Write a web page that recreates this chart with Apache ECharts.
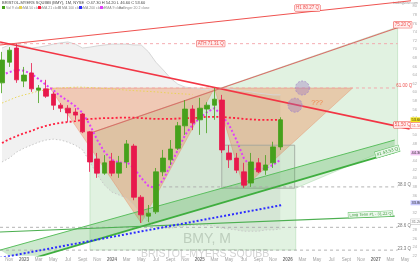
<!DOCTYPE html>
<html><head><meta charset="utf-8">
<script src="https://cdn.jsdelivr.net/npm/echarts@6/dist/echarts.min.js"></script>
<style>html,body{margin:0;padding:0;background:#fff;overflow:hidden}#c{width:420px;height:265px}</style>
</head><body><div id="c"></div>
<script>
// ---- x tick labels (month index 0 = Oct 2022) ----
const xTickIdx   = [1,3,5,7,9,11,13,15,17,19,21,23,25,27,29,31,33,35,37,39,41,43,45,47,49,51,53,55];
const xTickText  = ['Nov','2023','Mar','May','Jul','Sept','Nov','2024','Mar','May','Jul','Sept','Nov','2025','Mar','May','Jul','Sept','Nov','2026','Mar','May','Jul','Sept','Nov','2027','Mar','May'];

// ---- monthly candles ----
const open  = [62.2,67.0,70.3,62.6,64.5,60.5,60.8,59.6,57.0,56.3,55.4,54.95,50.8,44.5,41.2,44.0,41.2,43.8,47.5,35.6,31.2,32.2,41.5,44.3,47.0,52.2,56.1,53.6,56.1,57.0,58.2,45.9,44.7,41.5,38.9,43.6,41.9,43.6,47.3];
const close = [67.5,69.8,62.9,64.0,60.8,61.0,59.1,57.0,56.3,55.2,54.7,50.8,43.8,41.2,43.6,41.2,43.6,48.0,35.6,31.5,31.9,41.5,44.7,46.8,52.2,56.1,52.9,56.3,57.0,58.4,46.6,44.3,41.9,38.4,43.8,41.5,43.1,47.3,53.6];
const low   = [59.8,65.9,62.2,61.2,60.1,57.5,58.7,55.9,55.4,53.1,53.6,50.5,41.5,40.1,40.8,40.5,40.1,42.4,34.9,29.6,29.8,31.7,40.5,43.1,46.6,50.1,51.2,50.1,50.5,53.6,45.9,42.4,41.2,37.8,38.0,41.2,40.8,42.4,46.6];
const high  = [69.4,70.5,71.3,65.9,66.8,61.7,62.9,60.1,57.5,57.0,56.3,55.2,51.0,45.9,45.4,45.9,45.2,48.9,48.0,36.1,33.8,42.4,46.6,48.9,53.1,58.2,57.0,58.7,57.7,61.0,59.4,47.7,45.9,43.6,45.9,44.7,45.4,48.5,54.2];

// ---- indicator lines ----
const maMagenta = [64.0,64.7,65.2,65.0,64.3,63.1,61.7,60.5,59.1,58.0,56.8,55.2,52.4,48.9,46.1,44.3,43.6,43.8,42.4,40.1,38.2,37.7,39.6,43.1,46.6,50.1,52.4,54.0,55.4,56.3,54.7,52.4,48.9,44.7,42.6,41.9,42.4,43.1,44.3];
const maRed     = [48.2,49.1,49.8,50.5,51.0,51.7,52.2,52.6,52.9,53.1,53.3,53.6,53.8,53.9,54.0,54.0,54.1,54.1,54.1,54.0,53.9,53.8,53.8,53.8,53.9,54.0,54.0,54.1,54.3,54.3,54.3,54.1,54.0,53.8,53.7,53.6,53.6,53.6,53.6];
const maYellow  = [57.5,58.2,58.9,59.4,59.8,60.3,60.5,60.8,61.0,61.1,61.2,61.2,61.1,61.0,60.9,60.8,60.65,60.5,60.4,60.3,60.2,60.1,59.95,59.8,59.7,59.6,59.5];
const bbUpper   = [70.3,71.0,71.2,70.8,70.3,70.5,70.8,71.2,71.5,71.7,71.2,70.3,70.5,70.8,71.0,71.2,71.2,71.2,71.0,71.0,69.4,67.0,65.2,63.3,61.9,61.2,61.0,60.8,60.5,61.0,61.0,60.8,60.5,60.3,60.1,59.8,59.6,59.4,59.4];
const bbLower   = [43.8,44.7,46.1,47.0,47.7,48.4,48.9,49.1,48.9,48.4,47.7,46.6,43.8,40.8,38.4,36.8,36.1,35.4,33.8,31.5,29.8,28.9,28.4,28.4,28.7,28.9,29.1,29.1,29.1,28.9,28.4,28.2,28.0,27.7,27.7,27.7,28.0,28.0,28.2];

// ---- drawings (month index, price) ----
const lineH1      = [[-0.27,71.0],[57.0,81.5]];
const lineDown    = [[-0.27,71.7],[55.63,51.5]];
const lineUp      = [[12.0,50.5],[54.27,75.2]];
const chanUpper   = [[-0.27,23.3],[53.6,48.9]];
const chanLower   = [[2.45,20.5],[53.6,46.1]];
const longTerm    = [[-0.27,27.5],[53.6,31.2]];
const blueLine    = [[-0.27,21.5],[38.3,33.8]];
const triLeft     = [[6.55,61.0],[29.0,61.0],[19.0,29.6]];
const triRight    = [[29.0,61.0],[47.86,61.0],[33.0,37.8]];
const greenZone   = [[12.0,50.5],[54.0,75.2],[54.0,47.7],[40.1,37.7],[40.1,23.3],[12.0,23.3]];
const boxZone     = [[30.0,47.7],[39.95,37.7]];
const hLevels     = [ {v:71.31, from:-0.27, to:54, c:'#f4a3a8'}, {v:61.0, from:6.55, to:54, c:'#f4a3a8'},
                      {v:38.0, from:22, to:54, c:'#aaaaaa'}, {v:28.6, from:-0.27, to:54, c:'#aaaaaa'}, {v:23.3, from:-0.27, to:54, c:'#aaaaaa'} ];
const circles     = [[41.0,61.0],[40.0,57.0]];
const textTags    = [
  {p:[41.7,79.6], t:'H1 80.27 Q', c:'#ef5350', box:true},
  {p:[28.5,71.31], t:'ATH 71.31 Q', c:'#ef5350', box:true},
  {p:[54.9,61.5], t:'61.00 Q', c:'#ef5350', box:false},
  {p:[54.7,75.7], t:'75.20 Q', c:'#ef5350', box:true},
  {p:[54.7,52.4], t:'51.50 Q', c:'#ef5350', box:true},
  {p:[54.9,38.4], t:'38.0 Q', c:'#777', box:false},
  {p:[54.9,29.0], t:'28.6 Q', c:'#777', box:false},
  {p:[54.9,23.7], t:'23.3 Q', c:'#777', box:false},
  {p:[43.0,57.6], t:'???', c:'#f08a4b', box:false, size:7}
];
const axisTags = [
  {v:53.6, t:'53.60', bg:'#f5e61b', c:'#333'},
  {v:52.3, t:'51.50', bg:'#ffffff', c:'#ef5350', bd:'#ef5350'},
  {v:45.9, t:'44.30', bg:'#f3c6f5', c:'#333'},
  {v:34.3, t:'33.80', bg:'#c9c9ff', c:'#333'},
  {v:29.9, t:'31.20', bg:'#ffffff', c:'#777', bd:'#bbb'}
];

const X_MIN = -0.2727, X_MAX = 55.63, Y_MIN = 22, Y_MAX = 81.465;
const chart = echarts.init(document.getElementById('c'), null, {renderer:'canvas'});

function shape(z, build, clip){
  return {type:'custom', z:z, silent:true, clip: clip!==false, data:[[10,50]], encode:{x:0,y:1},
          renderItem:(params, api)=>build(api)};
}
function seg(pts, color, width, dash, z){
  return {type:'line', data:pts, symbol:'none', clip:true, z:z||3, silent:true,
          lineStyle:{color:color, width:width, type:dash||'solid'}};
}
function idxSeries(vals){ return vals.map((v,i)=>[i,v]); }

const candleData = open.map((o,i)=>[i,o,close[i],low[i],high[i]]);

const series = [
  shape(1, api=>{
    const pts = bbUpper.map((v,i)=>api.coord([i,v])).concat(bbLower.map((v,i)=>api.coord([i,v])).reverse());
    return {type:'polygon', shape:{points:pts}, style:{fill:'rgba(0,0,0,0.055)'}};
  }),
  seg(idxSeries(bbUpper),'#d6d6d6',1,'solid',2),
  seg(idxSeries(bbLower),'#c8c8c8',1,[1.5,2],2),
  shape(2, api=>({type:'polygon', shape:{points:greenZone.map(p=>api.coord(p))},
      style:{fill:'rgba(76,175,80,0.17)', stroke:'rgba(76,175,80,0.35)', lineWidth:0.6}})),
  shape(2, api=>({type:'group', children:[triLeft,triRight].map(t=>({type:'polygon', shape:{points:t.map(p=>api.coord(p))},
      style:{fill:'rgba(240,120,60,0.33)', stroke:'rgba(230,110,70,0.5)', lineWidth:0.6}}))})),
  shape(3, api=>{ const a=api.coord(boxZone[0]), b=api.coord(boxZone[1]);
    return {type:'rect', shape:{x:a[0],y:a[1],width:b[0]-a[0],height:b[1]-a[1]},
      style:{fill:'rgba(120,170,120,0.12)', stroke:'#9aa39a', lineWidth:0.8}}; }),
  shape(3, api=>({type:'polygon', shape:{points:[api.coord(chanUpper[0]),api.coord(chanUpper[1]),api.coord(chanLower[1]),api.coord(chanLower[0])]},
      style:{fill:'rgba(76,175,80,0.28)'}})),
  shape(3, api=>({type:'group', children:hLevels.map(h=>{const a=api.coord([h.from,h.v]), b=api.coord([h.to,h.v]);
      return {type:'line', shape:{x1:a[0],y1:a[1],x2:b[0],y2:b[1]}, style:{stroke:h.c, lineWidth:0.9, lineDash:[3,3]}};})})),
  seg(lineH1,'#ef5350',1.1,'solid',4),
  seg(lineDown,'#f23645',1.6,'solid',4),
  seg(lineUp,'#d9706a',1.1,'solid',4),
  seg(chanUpper,'#5cbf60',1,'solid',4),
  seg(chanLower,'#3fae3f',1.8,'solid',4),
  seg(longTerm,'#4caf50',1.1,'solid',4),
  seg(blueLine,'#2c2cff',2,[2,2],6),
  seg(idxSeries(maYellow),'#e8d44d',0.9,[1.5,2],5),
  seg(idxSeries(maRed),'#ff1f3f',1.8,[2,2.2],6),
  seg(idxSeries(maMagenta),'#e040fb',2,[2,2.2],7),
  {type:'candlestick', z:8, data:candleData, encode:{x:0,y:[1,2,3,4]}, barWidth:5, silent:true,
   itemStyle:{color:'#46a11c', color0:'#e8194c', borderColor:'#46a11c', borderColor0:'#e8194c', borderWidth:0.8}},
  shape(9, api=>({type:'group', children:circles.map(c=>{const p=api.coord(c);
      return {type:'circle', shape:{cx:p[0],cy:p[1],r:7}, style:{fill:'rgba(150,110,190,0.35)', stroke:'#a58ac8', lineWidth:0.8, lineDash:[2,1.5]}};})})),
  shape(10, api=>({type:'group', children:textTags.map(t=>{const p=api.coord(t.p);
      return {type:'text', x:p[0], y:p[1], style:{text:t.t, fill:t.c, fontSize:t.size||4.5, fontFamily:'Liberation Sans, Arial',
        align:'center', verticalAlign:'middle', backgroundColor: t.box?'rgba(255,235,235,0.9)':null,
        borderColor: t.box?t.c:null, borderWidth: t.box?0.5:0, padding: t.box?[0.5,1]:0}};})}), false),
  shape(11, api=>({type:'group', children:axisTags.map(t=>{const p=api.coord([X_MAX,t.v]);
      return {type:'text', x:p[0]+1, y:p[1], style:{text:t.t, fill:t.c, fontSize:4, fontFamily:'Liberation Sans, Arial',
        align:'left', verticalAlign:'middle', backgroundColor:t.bg, borderColor:t.bd||null, borderWidth:t.bd?0.5:0, padding:[0.5,1]}};})}), false),
  shape(11, api=>{
    const a=api.coord(chanLower[0]), b=api.coord(chanLower[1]);
    const ang=Math.atan2(-(b[1]-a[1]), b[0]-a[0]);
    const p=api.coord([52.6,46.2]);
    const la=api.coord(longTerm[0]), lb=api.coord(longTerm[1]);
    const ang2=Math.atan2(-(lb[1]-la[1]), lb[0]-la[0]);
    const q=api.coord([50.3,31.6]);
    return {type:'group', children:[
      {type:'text', x:p[0], y:p[1], rotation:ang, style:{text:'#1 43.53 Q', fill:'#3a9a3a', fontSize:4.5, align:'center', verticalAlign:'middle', backgroundColor:'#e8f6e8', borderColor:'#5cbf60', borderWidth:0.5, padding:[0.5,1]}},
      {type:'text', x:q[0], y:q[1], rotation:ang2, style:{text:'Long Term #1 - 31.22 Q', fill:'#3a9a3a', fontSize:4, align:'center', verticalAlign:'middle', backgroundColor:'#eef8ee', borderColor:'#5cbf60', borderWidth:0.5, padding:[0.5,1]}}
    ]};
  }, false),
  // time axis labels
  shape(11, api=>({type:'group', children:xTickIdx.map((ix,k)=>{const p=api.coord([ix,Y_MIN]);
      const yr=/^\d{4}$/.test(xTickText[k]);
      return {type:'text', x:p[0], y:p[1]+4.5, style:{text:xTickText[k], fill:yr?'#777':'#a0a0a0', fontSize:4.5,
        fontWeight:yr?'bold':'normal', fontFamily:'Liberation Sans, Arial', align:'center', verticalAlign:'middle'}};})}), false)
];

chart.setOption({
  animation:false,
  backgroundColor:'#ffffff',
  grid:{left:0, right:10, top:0, bottom:9.3, containLabel:false},
  xAxis:{type:'value', min:X_MIN, max:X_MAX,
    axisLine:{show:false}, axisTick:{show:false}, splitLine:{show:false}, axisLabel:{show:false}},
  yAxis:{type:'value', position:'right', min:Y_MIN, max:Y_MAX, interval:2,
    axisLine:{show:false}, axisTick:{show:false}, splitLine:{show:false},
    axisLabel:{fontSize:4, color:'#aaaaaa', margin:3, showMaxLabel:false}},
  graphic:[
    {type:'text', left:2, top:1, style:{text:'BRISTOL-MYERS SQUIBB (BMY), 1M, NYSE  O 47.30 H 54.20 L 46.60 C 53.60', fontSize:4, fill:'#444', fontFamily:'Liberation Sans, Arial'}},
    {type:'group', left:2, top:6, children:[
      {type:'rect', shape:{x:0,y:0,width:3,height:3}, style:{fill:'#46a11c'}},
      {type:'text', x:4, y:0, style:{text:'Vol 9 close', fontSize:3.5, fill:'#888'}},
      {type:'rect', shape:{x:17,y:0,width:3,height:3}, style:{fill:'#e8d44d'}},
      {type:'text', x:21, y:0, style:{text:'MA 50 close', fontSize:3.5, fill:'#888'}},
      {type:'rect', shape:{x:36,y:0,width:3,height:3}, style:{fill:'#ff1f3f'}},
      {type:'text', x:40, y:0, style:{text:'MA 21 close', fontSize:3.5, fill:'#888'}},
      {type:'rect', shape:{x:56,y:0,width:3,height:3}, style:{fill:'#bbbbbb'}},
      {type:'text', x:60, y:0, style:{text:'MA 100 close', fontSize:3.5, fill:'#888'}},
      {type:'rect', shape:{x:77,y:0,width:3,height:3}, style:{fill:'#2c2cff'}},
      {type:'text', x:81, y:0, style:{text:'MA 200 close', fontSize:3.5, fill:'#888'}},
      {type:'rect', shape:{x:98,y:0,width:3,height:3}, style:{fill:'#e040fb'}},
      {type:'text', x:102, y:0, style:{text:'EMA 9 close', fontSize:3.5, fill:'#888'}},
      {type:'text', x:117, y:0, style:{text:'Bollinger 20 2 close', fontSize:3.5, fill:'#888'}}
    ]},
    {type:'text', right:2, top:1, style:{text:'tradingview.com', fontSize:3.5, fill:'#999'}},
    {type:'text', left:183, top:232, z:0, style:{text:'BMY, M', fontSize:14, fill:'#d4d4d4', fontFamily:'Liberation Sans, Arial'}},
    {type:'text', left:141, top:249, z:0, style:{text:'BRISTOL-MYERS SQUIBB', fontSize:10.5, fill:'#d4d4d4', fontFamily:'Liberation Sans, Arial'}}
  ],
  series:series
});
</script>
</body></html>
